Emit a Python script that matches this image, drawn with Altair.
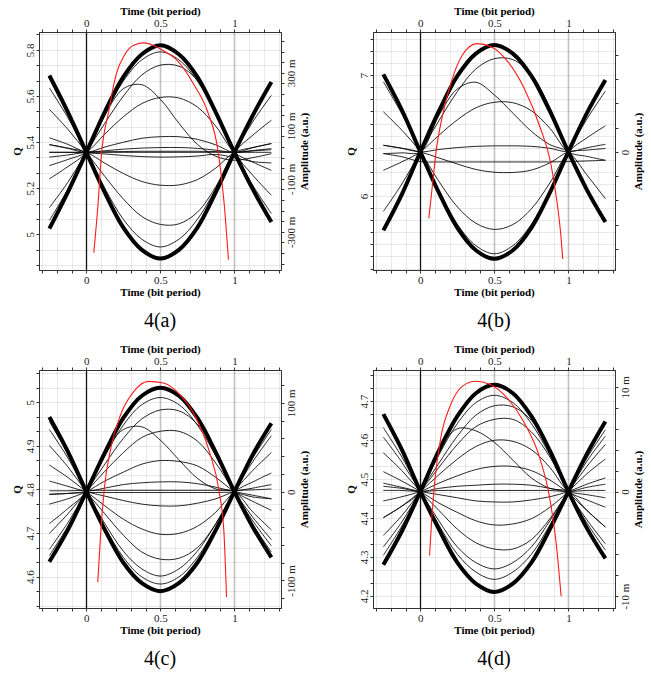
import altair as alt
import pandas as pd
import numpy as np

# ---------------- data ----------------
T = [-0.25, -0.125, 0.0, 0.125, 0.25, 0.375, 0.5, 0.625, 0.75, 0.875, 1.0, 1.125, 1.25]

# panel (a)
a_thick = [
    [-0.288, -0.150, 0.0, 0.153, 0.285, 0.370, 0.404, 0.370, 0.285, 0.150, 0.0, -0.140, -0.263],
    [0.290, 0.152, 0.0, -0.152, -0.284, -0.368, -0.401, -0.368, -0.284, -0.150, 0.0, 0.140, 0.265],
]
a_thin = [
    [-0.257, -0.139, 0.0, 0.144, 0.269, 0.349, 0.379, 0.349, 0.269, 0.144, 0.0, -0.125, -0.231],
    [-0.209, -0.113, 0.0, 0.110, 0.212, 0.292, 0.329, 0.325, 0.272, 0.156, 0.0, -0.087, -0.162],
    [-0.100, -0.054, 0.0, 0.140, 0.240, 0.255, 0.200, 0.110, 0.030, -0.015, -0.030, -0.020, -0.005],
    [-0.050, -0.027, 0.0, 0.069, 0.134, 0.184, 0.207, 0.205, 0.171, 0.098, 0.0, -0.037, -0.068],
    [0.029, 0.015, 0.0, 0.020, 0.038, 0.053, 0.059, 0.059, 0.049, 0.028, 0.0, 0.018, 0.033],
    [0.000, 0.000, 0.0, 0.006, 0.012, 0.016, 0.018, 0.018, 0.015, 0.008, 0.0, 0.007, 0.014],
    [0.055, 0.030, 0.0, -0.006, -0.012, -0.016, -0.018, -0.017, -0.014, -0.008, -0.020, -0.035, -0.040],
    [0.029, 0.016, 0.0, -0.041, -0.080, -0.110, -0.124, -0.123, -0.103, -0.059, 0.0, 0.018, 0.033],
    [0.162, 0.087, 0.0, -0.091, -0.176, -0.242, -0.272, -0.270, -0.226, -0.129, 0.0, 0.065, 0.121],
    [0.243, 0.131, 0.0, -0.136, -0.253, -0.328, -0.357, -0.328, -0.253, -0.136, 0.0, 0.116, 0.215],
    [0.000, 0.000, 0.0, 0.000, 0.000, 0.000, 0.000, 0.000, 0.000, 0.000, 0.0, 0.000, 0.000],
    [-0.018, -0.010, 0.0, 0.002, 0.003, 0.004, 0.004, 0.004, 0.004, 0.003, 0.0, 0.005, 0.010],
]
a_red_t = [0.05, 0.08, 0.10, 0.15, 0.20, 0.26, 0.32, 0.39, 0.45, 0.51, 0.62, 0.73, 0.82, 0.89, 0.93, 0.96]
a_red_q = [4.92, 5.14, 5.33, 5.53, 5.69, 5.78, 5.82, 5.83, 5.82, 5.80, 5.75, 5.645, 5.53, 5.36, 5.14, 4.89]

# panel (b)
b_thick = [
    [-0.648, -0.350, 0.0, 0.336, 0.627, 0.812, 0.883, 0.812, 0.627, 0.336, 0.0, -0.313, -0.579],
    [0.640, 0.346, 0.0, -0.336, -0.627, -0.812, -0.883, -0.812, -0.627, -0.336, 0.0, 0.320, 0.593],
]
b_thin = [
    [0.579, 0.313, 0.0, -0.320, -0.597, -0.774, -0.841, -0.774, -0.597, -0.320, 0.0, 0.271, 0.502],
    [-0.491, -0.265, 0.0, 0.257, 0.498, 0.685, 0.770, 0.762, 0.638, 0.366, 0.0, -0.305, -0.565],
    [-0.014, -0.008, 0.0, 0.300, 0.520, 0.575, 0.470, 0.320, 0.170, 0.060, 0.0, -0.190, -0.386],
    [-0.152, -0.082, 0.0, 0.137, 0.265, 0.364, 0.410, 0.406, 0.340, 0.195, 0.0, -0.037, -0.069],
    [0.055, 0.030, 0.0, 0.020, 0.036, 0.046, 0.050, 0.050, 0.046, 0.030, 0.0, 0.034, 0.063],
    [0.331, 0.179, 0.0, -0.243, -0.454, -0.589, -0.640, -0.600, -0.470, -0.256, 0.0, 0.116, 0.215],
    [0.055, 0.030, 0.0, -0.050, -0.100, -0.145, -0.168, -0.170, -0.150, -0.090, 0.0, 0.015, 0.028],
    [-0.014, -0.040, -0.080, -0.083, -0.083, -0.083, -0.083, -0.083, -0.083, -0.083, -0.080, -0.075, -0.069],
]
b_red_t = [0.057, 0.079, 0.106, 0.15, 0.216, 0.283, 0.382, 0.481, 0.592, 0.702, 0.812, 0.879, 0.923, 0.949, 0.962]
b_red_q = [5.815, 6.063, 6.366, 6.67, 6.972, 7.165, 7.262, 7.234, 7.11, 6.89, 6.559, 6.284, 5.953, 5.678, 5.479]

# panel (c)
c_thick = [
    [-0.079, -0.043, 0.0, 0.044, 0.083, 0.108, 0.117, 0.108, 0.083, 0.044, 0.0, -0.040, -0.074],
    [0.084, 0.045, 0.0, -0.043, -0.080, -0.103, -0.112, -0.103, -0.080, -0.043, 0.0, 0.042, 0.077],
]
c_thin = [
    [-0.072, -0.039, 0.0, 0.040, 0.075, 0.098, 0.106, 0.098, 0.075, 0.040, 0.0, -0.037, -0.068],
    [-0.065, -0.035, 0.0, 0.031, 0.060, 0.082, 0.092, 0.091, 0.076, 0.044, 0.0, -0.033, -0.061],
    [-0.047, -0.025, 0.0, 0.023, 0.044, 0.061, 0.068, 0.068, 0.057, 0.032, 0.0, -0.029, -0.054],
    [-0.036, -0.019, 0.0, 0.045, 0.070, 0.073, 0.058, 0.036, 0.015, 0.003, 0.0, -0.023, -0.043],
    [-0.014, -0.008, 0.0, 0.012, 0.022, 0.031, 0.035, 0.034, 0.029, 0.016, 0.0, -0.011, -0.021],
    [-0.003, -0.002, 0.0, 0.004, 0.008, 0.010, 0.011, 0.011, 0.009, 0.005, 0.0, -0.004, -0.008],
    [0.001, 0.001, 0.0015, 0.0015, 0.0015, 0.0015, 0.0015, 0.0015, 0.0015, 0.0015, 0.0015, 0.002, 0.003],
    [-0.003, -0.002, -0.001, -0.001, -0.001, -0.001, -0.001, -0.001, -0.001, -0.001, -0.001, -0.006, -0.008],
    [0.012, 0.006, 0.0, -0.005, -0.010, -0.014, -0.016, -0.016, -0.013, -0.008, 0.0, 0.004, 0.008],
    [0.030, 0.016, 0.0, -0.016, -0.031, -0.042, -0.048, -0.047, -0.039, -0.023, 0.0, 0.011, 0.021],
    [0.052, 0.028, 0.0, -0.025, -0.049, -0.068, -0.076, -0.075, -0.063, -0.036, 0.0, 0.024, 0.044],
    [0.070, 0.038, 0.0, -0.036, -0.067, -0.087, -0.095, -0.087, -0.067, -0.036, 0.0, 0.034, 0.063],
    [0.079, 0.043, 0.0, -0.040, -0.074, -0.096, -0.104, -0.096, -0.074, -0.040, 0.0, 0.038, 0.070],
]
c_red_t = [0.077, 0.095, 0.122, 0.166, 0.232, 0.321, 0.42, 0.52, 0.63, 0.741, 0.83, 0.896, 0.929, 0.947]
c_red_q = [4.587, 4.69, 4.804, 4.896, 4.972, 5.025, 5.048, 5.044, 5.018, 4.964, 4.888, 4.797, 4.705, 4.553]

# panel (d)
d_thick = [
    [-0.0070, -0.0038, 0.0, 0.0039, 0.0072, 0.0094, 0.0102, 0.0094, 0.0072, 0.0039, 0.0, -0.0035, -0.0064],
    [0.0074, 0.0040, 0.0, -0.0036, -0.0068, -0.0088, -0.0096, -0.0088, -0.0068, -0.0036, 0.0, 0.0036, 0.0067],
]
d_thin = [
    [-0.0061, -0.0033, 0.0, 0.0035, 0.0065, 0.0085, 0.0092, 0.0085, 0.0065, 0.0035, 0.0, -0.0030, -0.0056],
    [-0.0053, -0.0029, 0.0, 0.0027, 0.0053, 0.0073, 0.0082, 0.0081, 0.0068, 0.0039, 0.0, -0.0027, -0.0050],
    [-0.0042, -0.0023, 0.0, 0.0023, 0.0045, 0.0062, 0.0069, 0.0069, 0.0057, 0.0033, 0.0, -0.0018, -0.0034],
    [-0.0025, -0.0014, 0.0, 0.0040, 0.0060, 0.0058, 0.0047, 0.0030, 0.0013, 0.0003, 0.0, -0.0018, -0.0034],
    [-0.0025, -0.0014, 0.0, 0.0016, 0.0031, 0.0043, 0.0049, 0.0048, 0.0040, 0.0023, 0.0, -0.0008, -0.0015],
    [-0.0009, -0.0005, 0.0, 0.0008, 0.0015, 0.0021, 0.0024, 0.0024, 0.0020, 0.0011, 0.0, -0.0003, -0.0006],
    [0.0005, 0.0003, 0.0, 0.0003, 0.0005, 0.0006, 0.0007, 0.0007, 0.0006, 0.0003, 0.0, 0.0004, 0.0007],
    [0.0001, 0.0001, 0.0, 0.0001, 0.0001, 0.0001, 0.0001, 0.0001, 0.0001, 0.0001, 0.0, 0.0001, 0.0001],
    [0.0008, 0.0004, 0.0, -0.0003, -0.0006, -0.0009, -0.0010, -0.0010, -0.0008, -0.0005, 0.0, 0.0007, 0.0013],
    [0.0019, 0.0010, 0.0, -0.0011, -0.0020, -0.0028, -0.0032, -0.0031, -0.0026, -0.0015, 0.0, 0.0017, 0.0031],
    [0.0037, 0.0020, 0.0, -0.0018, -0.0036, -0.0049, -0.0055, -0.0055, -0.0046, -0.0026, 0.0, 0.0024, 0.0045],
    [0.0052, 0.0028, 0.0, -0.0028, -0.0053, -0.0068, -0.0074, -0.0068, -0.0053, -0.0028, 0.0, 0.0029, 0.0053],
    [0.0061, 0.0033, 0.0, -0.0032, -0.0060, -0.0077, -0.0084, -0.0077, -0.0060, -0.0032, 0.0, 0.0032, 0.0059],
]
d_red_t = [0.062, 0.076, 0.098, 0.138, 0.205, 0.283, 0.372, 0.472, 0.584, 0.695, 0.806, 0.873, 0.918, 0.951]
d_red_q = [4.304, 4.393, 4.496, 4.606, 4.691, 4.738, 4.751, 4.743, 4.709, 4.649, 4.555, 4.453, 4.334, 4.199]

# ---------------- layout / style ----------------
SERIF = "Liberation Serif"
X_DOMAIN = [-0.32, 1.315]
W, H = 242, 238


def steps(lo, hi, base, step):
    k0 = int(np.ceil((lo - base) / step - 1e-9))
    k1 = int(np.floor((hi - base) / step + 1e-9))
    return [round(base + k * step, 6) for k in range(k0, k1 + 1)]


XVALS = steps(X_DOMAIN[0], X_DOMAIN[1], 0.0, 0.1)
XLABEL = ("abs(datum.value) < 0.001 ? '0' : abs(datum.value - 0.5) < 0.001 ? '0.5' : "
          "abs(datum.value - 1) < 0.001 ? '1' : ''")
MAJOR_T = "abs(datum.value - 0.5) < 0.001 || abs(datum.value - 1) < 0.001"
LIGHT = "rgba(0,0,0,0.11)"
GRID_COLOR = {"condition": [{"test": "abs(datum.value) < 0.001", "value": "#111111"},
                            {"test": MAJOR_T, "value": "rgba(0,0,0,0.24)"}],
              "value": LIGHT}
GRID_WIDTH = {"condition": [{"test": "abs(datum.value) < 0.001", "value": 1.3},
                            {"test": MAJOR_T, "value": 1.6}],
              "value": 0.8}


def panel(thick, thin, red_t, red_q, qdom, qbase, qgrid, qmajor, qfmt,
          adom, abase, astep, alabel, wthick, caption):
    rows = []
    for i, tr in enumerate(thick):
        for t, v in zip(T, tr):
            rows.append({"trace": f"k{i}", "kind": "thick", "t": t, "amp": v})
    for i, tr in enumerate(thin):
        for t, v in zip(T, tr):
            rows.append({"trace": f"n{i}", "kind": "thin", "t": t, "amp": v})
    eye_df = pd.DataFrame(rows)
    red_df = pd.DataFrame({"t": red_t, "q": red_q})

    xscale = alt.Scale(domain=X_DOMAIN, nice=False, zero=False)

    qvals = steps(qdom[0], qdom[1], qbase, qgrid)
    qlabel = (f"abs(datum.value/{qmajor} - round(datum.value/{qmajor})) < 0.01 ? "
              f"format(datum.value, '{qfmt}') : ''")
    avals = steps(adom[0], adom[1], abase, astep)

    eye = alt.Chart(eye_df).mark_line(interpolate="catmull-rom", color="#000000").encode(
        x=alt.X("t:Q", scale=xscale,
                axis=alt.Axis(orient="bottom", title="Time (bit period)", values=XVALS,
                              labelExpr=XLABEL, grid=True, gridColor=GRID_COLOR,
                              gridWidth=GRID_WIDTH, tickSize=3, labelPadding=1,
                              titlePadding=1, labelAngle=0)),
        y=alt.Y("amp:Q", scale=alt.Scale(domain=adom, nice=False, zero=False),
                axis=alt.Axis(orient="right", title="Amplitude (a.u.)", values=avals,
                              labelExpr=alabel, grid=False, labelAngle=270, titleAngle=270,
                              tickSize=3, labelPadding=1, titleX=23, titleY=H / 2,
                              titleAlign="center", titleBaseline="middle")),
        detail="trace:N",
        strokeWidth=alt.StrokeWidth("kind:N", scale=alt.Scale(domain=["thin", "thick"],
                                                              range=[0.85, wthick]),
                                    legend=None),
    )
    red = alt.Chart(red_df).mark_line(interpolate="monotone", color="#ff1a1a",
                                      strokeWidth=1.1).encode(
        x=alt.X("t:Q", scale=xscale,
                axis=alt.Axis(orient="top", title="Time (bit period)", values=XVALS,
                              labelExpr=XLABEL, grid=False, tickSize=3, labelPadding=1,
                              titlePadding=1, labelAngle=0)),
        y=alt.Y("q:Q", scale=alt.Scale(domain=qdom, nice=False, zero=False),
                axis=alt.Axis(orient="left", title="Q", values=qvals, labelExpr=qlabel,
                              grid=True, gridColor=LIGHT, gridWidth=0.8,
                              labelAngle=270, tickSize=3, labelPadding=1, titlePadding=2)),
    )
    return alt.layer(eye, red).resolve_scale(y="independent").resolve_axis(
        x="independent", y="independent").properties(
        width=W, height=H,
        title=alt.TitleParams(caption, orient="bottom", font=SERIF, fontSize=20,
                              fontWeight="normal", offset=14, color="#000000"))


AMP_A = ("abs((round(datum.value*1000)+100)/200 - round((round(datum.value*1000)+100)/200)) < 0.01"
         " ? round(datum.value*1000) + ' m' : ''")
AMP_B = "abs(datum.value) < 1e-6 ? '0' : ''"
AMP_C = ("abs(datum.value) < 1e-6 ? '0' : (abs(datum.value*10 - round(datum.value*10)) < 0.01"
         " ? round(datum.value*1000) + ' m' : '')")
AMP_D = ("abs(datum.value) < 1e-7 ? '0' : (abs(datum.value*100 - round(datum.value*100)) < 0.01"
         " ? round(datum.value*1000) + ' m' : '')")

pa = panel(a_thick, a_thin, a_red_t, a_red_q, [4.845, 5.877], 5.0, 0.2 / 3, 0.2, ".1~f",
           [-0.444, 0.454], 0.1, 0.04, AMP_A, 4.0, "4(a)")
pb = panel(b_thick, b_thin, b_red_t, b_red_q, [5.388, 7.358], 6.0, 0.1, 1, ".0f",
           [-0.975, 0.99], 0.0, 0.2, AMP_B, 3.6, "4(b)")
pc = panel(c_thick, c_thin, c_red_t, c_red_q, [4.528, 5.074], 4.6, 0.1 / 3, 0.1, ".1~f",
           [-0.131, 0.137], 0.0, 0.02, AMP_C, 6.0, "4(c)")
pd_ = panel(d_thick, d_thin, d_red_t, d_red_q, [4.169, 4.780], 4.2, 0.1 / 3, 0.1, ".1~f",
            [-0.01114, 0.01162], 0.0, 0.002, AMP_D, 6.5, "4(d)")

chart = alt.vconcat(
    alt.hconcat(pa, pb, spacing=34),
    alt.hconcat(pc, pd_, spacing=34),
    spacing=10,
).properties(
    padding={"left": 10, "top": 4, "right": 5, "bottom": 5},
    background="white",
).configure_axis(
    labelFont=SERIF, titleFont=SERIF, labelFontSize=11, titleFontSize=11,
    titleFontWeight="bold", labelColor="#222222", titleColor="#000000",
    domainColor="#333333", tickColor="#333333", domainWidth=1,
).configure_view(stroke="#444444", strokeWidth=1)

chart.save("out.html", embed_options={"renderer": "svg", "actions": False})
